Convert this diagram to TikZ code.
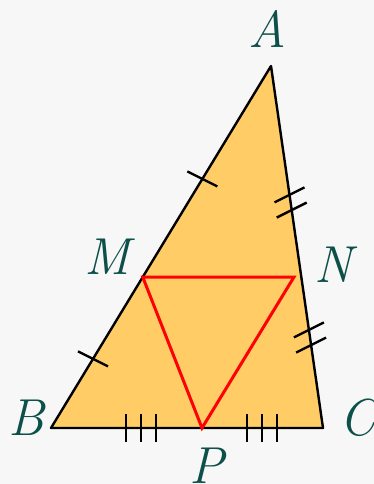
\documentclass[tikz,border=0pt]{standalone}
\usetikzlibrary{calc}
\definecolor{bggray}{HTML}{F7F7F7}
\definecolor{trifill}{HTML}{FFCC66}
\definecolor{lblteal}{HTML}{0D5049}
\tikzset{
    vlabel/.style={text=lblteal, font=\fontsize{52}{60}\selectfont\itshape, inner sep=0pt},
    tickmark/.style={black, line width=2.4pt}
}
\begin{document}
\begin{tikzpicture}[x=1pt, y=-1pt]
    % background
    \fill[bggray] (0,0) rectangle (374,484);
    \useasboundingbox (0,0) rectangle (374,484);
    % vertices
    \coordinate (A) at (271,66);
    \coordinate (B) at (51,428);
    \coordinate (C) at (323,428);
    \coordinate (M) at ($(A)!0.583!(B)$);
    \coordinate (N) at (294,277);
    \coordinate (P) at (202,428);
    % triangle ABC
    \fill[trifill] (A) -- (B) -- (C) -- cycle;
    \draw[black, line width=2.4pt, line join=round] (A) -- (B) -- (C) -- cycle;
    % triangle MNP
    \draw[red, line width=3pt] (M) -- (N) -- (P) -- cycle;
    % ticks on AB
    \foreach \f in {0.312,0.809} {
        \draw[tickmark] ($(A)!\f!(B)$) +(-15,-7.5) -- +(15,7.5);
    }
    % ticks on AC
    \foreach \f in {0.356,0.398,0.729,0.771} {
        \draw[tickmark] ($(A)!\f!(C)$) +(-15,7.5) -- +(15,-7.5);
    }
    % ticks on BC
    \foreach \f in {0.276,0.331,0.386,0.721,0.776,0.831} {
        \draw[tickmark] ($(B)!\f!(C)$) +(0,-14) -- +(0,14);
    }
    % labels
    \node[vlabel] (lA) at (267,29) {A};
    \node[vlabel] (lM) at (107,257) {M};
    \node[vlabel] (lN) at (333,265) {N};
    \node[vlabel] (lB) at (26,418) {B};
    \node[vlabel] (lC) at (358,418) {C};
    \node[vlabel] (lP) at (207,466) {P};
\end{tikzpicture}
\end{document}
